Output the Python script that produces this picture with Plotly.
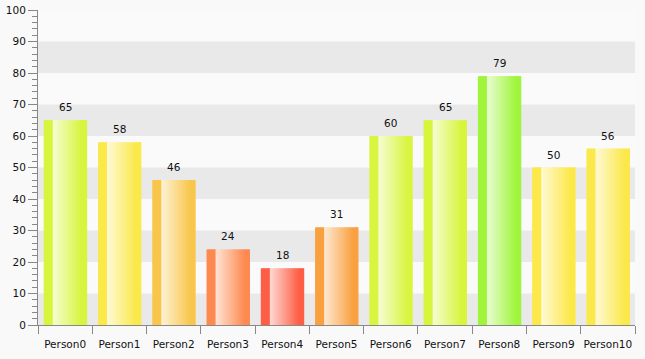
import plotly.graph_objects as go

# ---- data ----
categories = ["Person0", "Person1", "Person2", "Person3", "Person4", "Person5",
              "Person6", "Person7", "Person8", "Person9", "Person10"]
values = [65, 58, 46, 24, 18, 31, 60, 65, 79, 50, 56]
bar_colors = ["#d6f53c", "#fbe84a", "#f9c64c", "#fd8a50", "#fd5e46", "#f9a040",
              "#d9f540", "#d6f53c", "#a0f53c", "#fde84a", "#fbe84a"]
y_ticks = list(range(0, 101, 10))
band_starts = [0, 20, 40, 60, 80]

# ---- styling helpers ----
FONT = "DejaVu Sans"
FSIZE = 10.5
BAR_W = 0.8
BAR_OFF = -0.395
N_SLICES = 24


def hex_rgb(h):
    h = h.lstrip("#")
    return tuple(int(h[i:i + 2], 16) for i in (0, 2, 4))


def mix_white(h, a):
    r, g, b = hex_rgb(h)
    return "rgb(%d,%d,%d)" % (round(r + (255 - r) * a), round(g + (255 - g) * a), round(b + (255 - b) * a))


def shade(t):
    # amount of white mixed in at relative position t across the bar
    if t < 0.2:
        return 0.0
    a = 0.78 * (1 - (t - 0.2) / 0.68)
    return max(0.0, a)


fig = go.Figure()

sw = BAR_W / N_SLICES
for k in range(N_SLICES):
    t = (k + 0.5) / N_SLICES
    a = shade(t)
    start = BAR_OFF + k * sw
    width = min(sw * 1.6, BAR_OFF + BAR_W - start)
    fig.add_trace(go.Bar(
        x=categories, y=values,
        width=width, offset=start,
        marker=dict(color=[mix_white(c, a) for c in bar_colors], line=dict(width=0)),
        hoverinfo="skip" if k else "x+y",
        showlegend=False,
    ))

# value labels
for c, v in zip(categories, values):
    fig.add_annotation(x=c, y=v, text=str(v), showarrow=False,
                       yanchor="middle", yshift=13,
                       font=dict(family=FONT, size=FSIZE, color="#111111"))

# alternating background bands
for b in band_starts:
    fig.add_shape(type="rect", xref="paper", x0=0, x1=1, yref="y", y0=b, y1=b + 10,
                  fillcolor="#e9e9e9", line=dict(width=0), layer="below")

fig.update_layout(
    width=645, height=359,
    margin=dict(l=38, r=10, t=10, b=34),
    paper_bgcolor="#f9f9f9",
    plot_bgcolor="#fafafa",
    barmode="overlay",
    showlegend=False,
    font=dict(family=FONT, size=FSIZE, color="#111111"),
    xaxis=dict(
        type="category", tickson="boundaries", ticks="outside", ticklen=8,
        tickcolor="#888", tickwidth=1, showline=True, linecolor="#888", linewidth=1,
        showgrid=False, zeroline=False, tickangle=0, automargin=False,
        ticklabelstandoff=9,
        tickfont=dict(family=FONT, size=FSIZE, color="#111111"),
    ),
    yaxis=dict(
        range=[0, 100], tickvals=y_ticks, ticks="outside", ticklen=9,
        tickcolor="#888", tickwidth=1, showline=True, linecolor="#888", linewidth=1,
        showgrid=False, zeroline=False, automargin=False,
        tickfont=dict(family=FONT, size=FSIZE, color="#111111"),
        minor=dict(dtick=2, ticks="outside", ticklen=5, tickcolor="#888", showgrid=False),
    ),
)

fig.write_html("out.html", config={"displayModeBar": False},
               post_script="document.body.style.margin='0';document.body.style.background='#f9f9f9';")
